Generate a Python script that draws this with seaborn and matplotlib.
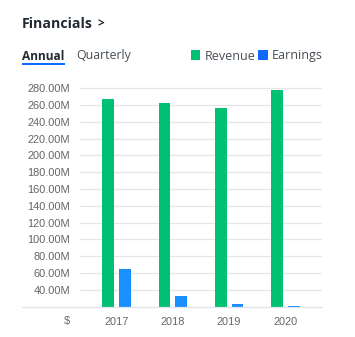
import matplotlib
matplotlib.use("Agg")
import matplotlib.pyplot as plt
from matplotlib.patches import Rectangle
from matplotlib.lines import Line2D
import seaborn as sns
import pandas as pd

# Annual figures, in millions of dollars
years = ["2017", "2018", "2019", "2020"]
revenue = [267.2, 262.4, 256.5, 278.2]
earnings = [65.4, 33.3, 23.4, 21.2]
series_names = ["Revenue", "Earnings"]
series_colors = ["#00c073", "#1890ff"]
legend_colors = ["#00c073", "#0f69ff"]
y_ticks = [40, 60, 80, 100, 120, 140, 160, 180, 200, 220, 240, 260, 280]

df = pd.DataFrame({
    "year": years * 2,
    "value": revenue + earnings,
    "series": [series_names[0]] * len(years) + [series_names[1]] * len(years),
})

W, H = 355, 337
sns.set_theme(style="white")
plt.rcParams["font.family"] = ["Liberation Sans", "DejaVu Sans"]

fig = plt.figure(figsize=(W / 100, H / 100), dpi=100)
fig.patch.set_facecolor("white")

def fx(x):
    return x / W

def fy(y):
    return 1 - y / H

# plot area in pixel terms
left, right, top, bottom = 80, 322, 80, 306.7
ax = fig.add_axes([fx(left), fy(bottom), (right - left) / W, (bottom - top) / H])

sns.barplot(data=df, x="year", y="value", hue="series", palette=series_colors,
            saturation=1, width=0.59, gap=0.295, linewidth=0, ax=ax,
            legend=False, zorder=3)

ax.set_xlim(-0.648, 3.648)
ax.set_ylim(20, 289.6)
ax.set_yticks(y_ticks)
ax.set_yticklabels([f"{v:.2f}M" for v in y_ticks])
ax.set_xlabel("")
ax.set_ylabel("")
ax.grid(axis="y", color="#e6e6e6", linewidth=0.9, zorder=0)
ax.set_axisbelow(True)
for s in ax.spines.values():
    s.set_visible(False)
ax.tick_params(axis="y", length=0, pad=7.2, labelsize=7.9, labelcolor="#666666")
ax.tick_params(axis="x", length=0, pad=7.5, labelsize=7.9, labelcolor="#666666")

# baseline running under the labels column
fig.add_artist(Line2D([fx(22), fx(322)], [fy(306.7), fy(306.7)],
                      color="#dfe3ea", linewidth=0.9))
fig.text(fx(67), fy(321), "$", ha="center", va="center", fontsize=7.9, color="#666666")

# header
fig.text(fx(21.5), fy(27.5), "Financials", ha="left", va="baseline",
         fontsize=10.2, fontweight="bold", color="#232a31", family="Open Sans")
fig.text(fx(97.5), fy(27.5), ">", ha="left", va="baseline",
         fontsize=8.5, fontweight="bold", color="#232a31", family="Open Sans")

# tabs
fig.text(fx(21.5), fy(59.5), "Annual", ha="left", va="baseline",
         fontsize=8.6, fontweight="bold", color="#232a31", family="Open Sans")
fig.add_artist(Rectangle((fx(21.5), fy(64.7)), (65 - 21.5) / W, 2 / H,
                         facecolor="#0f69ff", edgecolor="none"))
fig.text(fx(76), fy(59.5), "Quarterly", ha="left", va="baseline",
         fontsize=8.9, color="#464e56", family="Open Sans")

# legend
legend_x = [191, 258]
for x0, name, col in zip(legend_x, series_names, legend_colors):
    fig.add_artist(Rectangle((fx(x0), fy(59.5)), 9.5 / W, 9.5 / H,
                             facecolor=col, edgecolor="none"))
    fig.text(fx(x0 + 13.5), fy(59.5), name, ha="left", va="baseline",
             fontsize=9.0, color="#464e56", family="Open Sans")

fig.savefig("out.png", dpi=100)
